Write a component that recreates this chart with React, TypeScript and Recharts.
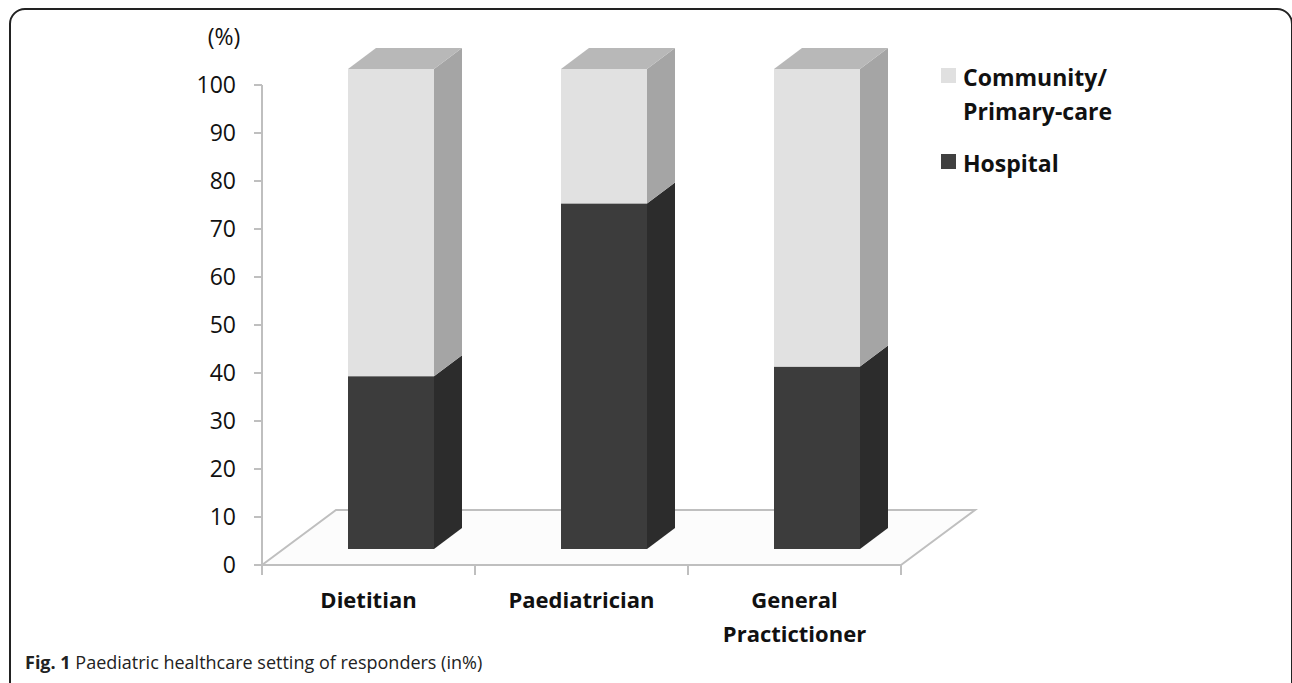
import { Bar, BarChart, Label, XAxis, YAxis } from "recharts";

const categories = ["Dietitian", "Paediatrician", "General Practictioner"];
const hospital = [36, 72, 38];
const community = [64, 28, 62];
const yTicks = [0, 10, 20, 30, 40, 50, 60, 70, 80, 90, 100];
const legendItems = [
  { name: "Community/\nPrimary-care", color: "#e0e0e0" },
  { name: "Hospital", color: "#404040" }
];

const data = categories.map((name, i) => ({
  name,
  hospital: hospital[i],
  community: community[i]
}));

// layout of the plot (px)
const W = 1292;
const H = 683;
const PLOT_LEFT = 262;
const PLOT_RIGHT = 901;
const PLOT_TOP = 85;
const PLOT_BOTTOM = 565;
const BAND = (PLOT_RIGHT - PLOT_LEFT) / categories.length;
// floor depth and where the bars sit inside it
const FLOOR_DX = 74;
const FLOOR_DY = 55;
const BAR_DX = 22;
const BAR_DY = 16;
const SIDE_DX = 28;
const SIDE_DY = 21;
const GRAY = "#bfbfbf";
const FONT = "'Open Sans', sans-serif";

function prism(front: string, side: string, top?: string) {
  return (props: any) => {
    const { width, height } = props;
    const x = props.x + BAR_DX;
    const y = props.y - BAR_DY;
    const r = x + width;
    return (
      <g>
        <rect x={x} y={y} width={width} height={height} fill={front} />
        <polygon
          points={`${r},${y} ${r + SIDE_DX},${y - SIDE_DY} ${r + SIDE_DX},${y + height - SIDE_DY} ${r},${y + height}`}
          fill={side}
        />
        {top && (
          <polygon
            points={`${x},${y} ${x + SIDE_DX},${y - SIDE_DY} ${r + SIDE_DX},${y - SIDE_DY} ${r},${y}`}
            fill={top}
          />
        )}
      </g>
    );
  };
}

function CategoryTick(props: any) {
  const { x, y, index, payload } = props;
  const lines = String(payload.value).split(" ");
  const left = x - BAND / 2;
  return (
    <g>
      <line x1={left} y1={y} x2={left} y2={y + 10} stroke={GRAY} strokeWidth={2} />
      {index === categories.length - 1 && (
        <line x1={left + BAND} y1={y} x2={left + BAND} y2={y + 10} stroke={GRAY} strokeWidth={2} />
      )}
      <text x={x} y={y + 43} textAnchor="middle" fill="#111" fontSize={22} fontWeight={700} fontFamily={FONT}>
        {lines.map((line, i) => (
          <tspan key={line} x={x} dy={i === 0 ? 0 : 34}>
            {line}
          </tspan>
        ))}
      </text>
    </g>
  );
}

export default function App() {
  return (
    <div
      style={{
        position: "absolute",
        left: 0,
        top: 0,
        width: W,
        height: H,
        overflow: "hidden",
        background: "#fff",
        fontFamily: FONT
      }}
    >
      <div
        style={{
          position: "absolute",
          left: 9,
          top: 8,
          width: W - 12,
          height: H + 40,
          border: "2px solid #222",
          borderRadius: 16
        }}
      />
      <svg width={W} height={H} style={{ position: "absolute", left: 0, top: 0 }}>
        <polyline
          points={`${PLOT_LEFT},${PLOT_BOTTOM} ${PLOT_LEFT + FLOOR_DX},${PLOT_BOTTOM - FLOOR_DY} ${PLOT_RIGHT + FLOOR_DX},${PLOT_BOTTOM - FLOOR_DY} ${PLOT_RIGHT},${PLOT_BOTTOM}`}
          fill="#fcfcfc"
          stroke={GRAY}
          strokeWidth={2}
        />
      </svg>
      <div style={{ position: "absolute", left: 0, top: 0 }}>
        <BarChart
          width={W}
          height={H}
          data={data}
          margin={{ top: PLOT_TOP, right: W - PLOT_RIGHT, bottom: 0, left: 0 }}
          barSize={86}
        >
          <XAxis
            dataKey="name"
            height={H - PLOT_BOTTOM}
            axisLine={{ stroke: GRAY, strokeWidth: 2 }}
            tickLine={false}
            tickSize={0}
            tickMargin={0}
            interval={0}
            tick={<CategoryTick />}
          />
          <YAxis
            width={PLOT_LEFT}
            domain={[0, 100]}
            ticks={yTicks}
            interval={0}
            axisLine={{ stroke: GRAY, strokeWidth: 2 }}
            tickLine={{ stroke: GRAY, strokeWidth: 2 }}
            tickSize={8}
            tickMargin={18}
            tick={{ fill: "#111", fontSize: 23, fontFamily: FONT }}
          >
            <Label
              content={(p: any) => (
                <text
                  x={p.viewBox.x + p.viewBox.width - 38}
                  y={p.viewBox.y - 40}
                  textAnchor="middle"
                  fill="#111"
                  fontSize={23}
                  fontFamily={FONT}
                >
                  (%)
                </text>
              )}
            />
          </YAxis>
          <Bar
            dataKey="hospital"
            stackId="a"
            isAnimationActive={false}
            shape={prism("#3c3c3c", "#2c2c2c")}
          />
          <Bar
            dataKey="community"
            stackId="a"
            isAnimationActive={false}
            shape={prism("#e1e1e1", "#a5a5a5", "#b8b8b8")}
          />
        </BarChart>
      </div>
      {legendItems.map((item, i) => (
        <div
          key={item.name}
          style={{
            position: "absolute",
            left: 941,
            top: i === 0 ? 60 : 146,
            display: "flex",
            alignItems: "flex-start",
            fontSize: 23,
            fontWeight: 700,
            lineHeight: "34px",
            color: "#111",
            whiteSpace: "pre"
          }}
        >
          <span
            style={{
              display: "inline-block",
              width: 15,
              height: 15,
              background: item.color,
              marginTop: 8,
              marginRight: 7
            }}
          />
          <span>{item.name}</span>
        </div>
      ))}
      <div
        style={{
          position: "absolute",
          left: 25,
          top: 650,
          fontSize: 18,
          color: "#222",
          whiteSpace: "nowrap"
        }}
      >
        <b>Fig. 1</b> Paediatric healthcare setting of responders (in%)
      </div>
    </div>
  );
}
